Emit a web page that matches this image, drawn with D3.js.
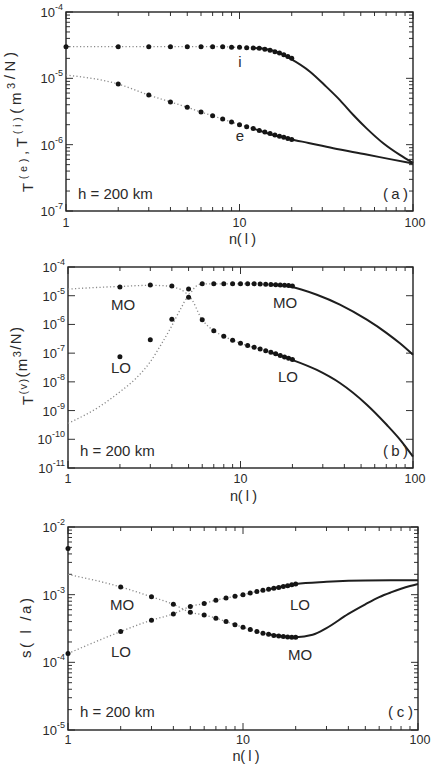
<!DOCTYPE html>
<html>
<head>
<meta charset="utf-8">
<style>
  html, body { margin: 0; padding: 0; background: #fff; }
  svg text { font-family: "Liberation Sans", Arial, sans-serif; fill: #2a2a2a; }
</style>
</head>
<body>
<div id="chart"></div>
<script src="https://cdnjs.cloudflare.com/ajax/libs/d3/7.8.5/d3.min.js"></script>
<script>
// ---- data ----
// panel (a): T(e), T(i)
const nDots = [1, 2, 3, 4, 5, 6, 7, 8, 9, 10, 11, 12, 13, 14, 15, 16, 17, 18, 19, 20];
const aIonDots = [3.0e-5, 3.0e-5, 3.0e-5, 3.0e-5, 3.0e-5, 3.0e-5, 3.0e-5, 3.0e-5, 2.95e-5, 2.93e-5,
  2.9e-5, 2.87e-5, 2.83e-5, 2.75e-5, 2.65e-5, 2.52e-5, 2.4e-5, 2.27e-5, 2.13e-5, 2.0e-5];
const nDots2 = [2, 3, 4, 5, 6, 7, 8, 9, 10, 11, 12, 13, 14, 15, 16, 17, 18, 19, 20];
const aElecDots = [8.2e-6, 5.6e-6, 4.4e-6, 3.66e-6, 3.1e-6, 2.73e-6, 2.43e-6, 2.19e-6, 2.0e-6,
  1.87e-6, 1.75e-6, 1.64e-6, 1.55e-6, 1.47e-6, 1.40e-6, 1.34e-6, 1.29e-6, 1.24e-6, 1.2e-6];
const aElecStart = [1, 1.12e-5];
const aIonSolid = [[12, 2.87e-5], [13.1, 2.83e-5], [16.4, 2.5e-5], [19.5, 2.0e-5], [25.5, 1.26e-5],
  [31.6, 7.5e-6], [37.9, 4.7e-6], [45.3, 2.8e-6], [54, 1.76e-6], [67.4, 1.05e-6], [84, 7.0e-7], [100, 5.3e-7]];
const aElecSolid = [[12, 1.75e-6], [14.3, 1.5e-6], [19.5, 1.22e-6], [25, 1.06e-6], [34.7, 8.8e-7],
  [54, 7.1e-7], [75, 6.0e-7], [100, 5.2e-7]];

// panel (b): T(v)
const bUpperDots = [2.0e-5, 2.35e-5, 2.2e-5, 1.7e-5, 2.6e-5, 2.6e-5, 2.6e-5, 2.6e-5, 2.6e-5, 2.6e-5,
  2.6e-5, 2.55e-5, 2.5e-5, 2.45e-5, 2.4e-5, 2.35e-5, 2.3e-5, 2.25e-5, 2.2e-5];
const bLowerDots = [7.5e-8, 2.9e-7, 1.5e-6, 8.8e-6, 1.45e-6, 6.0e-7, 3.9e-7, 2.8e-7, 2.2e-7, 1.85e-7,
  1.6e-7, 1.4e-7, 1.22e-7, 1.08e-7, 9.5e-8, 8.3e-8, 7.3e-8, 6.6e-8, 6.0e-8];
const bMoDotted = [[1, 1.7e-5], [1.5, 1.95e-5], [2, 2.1e-5], [3, 2.3e-5], [3.5, 2.25e-5], [4, 2.05e-5],
  [4.5, 1.65e-5], [5, 1.15e-5], [5.5, 2.1e-5], [6, 2.6e-5], [10, 2.6e-5], [15, 2.45e-5], [20, 2.2e-5]];
const bLoDotted = [[1, 3.6e-10], [1.5, 1.3e-9], [2, 4.5e-9], [2.5, 1.4e-8], [3, 5e-8], [3.5, 2.2e-7],
  [4, 9e-7], [4.5, 3.5e-6], [5, 9e-6], [6, 1.45e-6], [7, 6e-7], [8, 3.9e-7], [10, 2.2e-7], [15, 1.08e-7], [20, 6e-8]];
const bMoSolid = [[15, 2.45e-5], [19.4, 2.1e-5], [27.7, 1.08e-5], [37.7, 4.9e-6], [54, 1.46e-6],
  [70.4, 5.0e-7], [84, 2.2e-7], [100, 8.8e-8]];
const bLoSolid = [[15, 1.05e-7], [19.4, 6.2e-8], [27.7, 2.6e-8], [37.7, 9.1e-9], [54, 1.6e-9],
  [70.4, 3.2e-10], [84.3, 9.6e-11], [100, 2.5e-11]];

// panel (c): s(l/a)
const cLeftN = [2, 3, 4, 5];
const cMoLeftDots = [1.3e-3, 9.3e-4, 7.2e-4, 6.7e-4];
const cLoLeftN = [1, 2, 3, 4, 5];
const cLoLeftDots = [1.35e-4, 2.85e-4, 4.2e-4, 5.2e-4, 5.5e-4];
const cExtraDot = [1, 4.8e-3];
const cRightN = [6, 7, 8, 9, 10, 11, 12, 13, 14, 15, 16, 17, 18, 19, 20];
const cLoRightDots = [7.4e-4, 8.3e-4, 8.9e-4, 9.5e-4, 1.0e-3, 1.06e-3, 1.11e-3, 1.16e-3, 1.2e-3,
  1.24e-3, 1.28e-3, 1.32e-3, 1.36e-3, 1.4e-3, 1.44e-3];
const cMoRightDots = [5.0e-4, 4.5e-4, 4.0e-4, 3.6e-4, 3.3e-4, 3.05e-4, 2.85e-4, 2.7e-4, 2.6e-4,
  2.5e-4, 2.45e-4, 2.4e-4, 2.37e-4, 2.35e-4, 2.35e-4];
const cDescStart = [1, 2.0e-3];
const cLoSolid = [[14, 1.2e-3], [20, 1.44e-3], [30, 1.55e-3], [40, 1.6e-3], [50, 1.62e-3], [70, 1.63e-3], [100, 1.63e-3]];
const cMoSolid = [[14, 2.6e-4], [17, 2.42e-4], [20, 2.35e-4], [25, 2.55e-4], [30, 3.2e-4], [40, 5.2e-4],
  [50, 7.2e-4], [60, 9.2e-4], [70, 1.08e-3], [80, 1.22e-3], [90, 1.34e-3], [100, 1.44e-3]];

// tick labels
const xTickLabels = ["1", "10", "100"];
const aExps = [-4, -5, -6, -7];
const bExps = [-4, -5, -6, -7, -8, -9, -10, -11];
const cExps = [-2, -3, -4, -5];

// ---- helpers ----
const zip = (ns, vs) => ns.map((n, i) => [n, vs[i]]);

const width = 434, height = 766;
const svg = d3.select("#chart").append("svg")
  .attr("width", width).attr("height", height);

function panel(o) {
  const x = d3.scaleLog().domain([1, 100]).range([o.left, o.right]);
  const y = d3.scaleLog().domain([Math.pow(10, o.exps[o.exps.length - 1]), Math.pow(10, o.exps[0])])
    .range([o.bottom, o.top]);
  const g = svg.append("g");

  // ticks, all pointing inward
  const tk = g.append("g").attr("stroke", "#333").attr("stroke-width", 1);
  x.ticks().forEach(t => {
    const major = Math.abs(Math.log10(t) % 1) < 1e-9;
    const len = major ? 7 : 4;
    tk.append("line").attr("x1", x(t)).attr("x2", x(t)).attr("y1", o.bottom).attr("y2", o.bottom - len);
    tk.append("line").attr("x1", x(t)).attr("x2", x(t)).attr("y1", o.top).attr("y2", o.top + len);
  });
  let yt = y.ticks();
  if (!o.minorY) yt = yt.filter(t => Math.abs(Math.log10(t) - Math.round(Math.log10(t))) < 1e-9);
  yt.forEach(t => {
    const major = Math.abs(Math.log10(t) - Math.round(Math.log10(t))) < 1e-9;
    const len = major ? 7 : 4;
    tk.append("line").attr("y1", y(t)).attr("y2", y(t)).attr("x1", o.left).attr("x2", o.left + len);
    tk.append("line").attr("y1", y(t)).attr("y2", y(t)).attr("x1", o.right).attr("x2", o.right - len);
  });

  g.append("rect")
    .attr("x", o.left).attr("y", o.top)
    .attr("width", o.right - o.left).attr("height", o.bottom - o.top)
    .attr("fill", "none").attr("stroke", "#222").attr("stroke-width", 1.4);

  // x tick labels
  [1, 10, 100].forEach((t, i) => {
    g.append("text").attr("x", x(t) + (i === 2 ? 2 : 0)).attr("y", o.bottom + o.tickDy)
      .attr("text-anchor", "middle").attr("font-size", 12.5).text(xTickLabels[i]);
  });
  // y tick labels: 10 with exponent
  o.exps.forEach(e => {
    const yy = y(Math.pow(10, e));
    const t = g.append("text").attr("x", o.left - 3).attr("y", yy + 5)
      .attr("text-anchor", "end").attr("font-size", 13);
    t.append("tspan").text("10");
    t.append("tspan").attr("font-size", 9).attr("dy", -7).text(String(e));
  });

  const line = d3.line().x(d => x(d[0])).y(d => y(d[1])).curve(d3.curveMonotoneX);
  (o.dotted || []).forEach(s => {
    g.append("path").attr("d", line(s)).attr("fill", "none")
      .attr("stroke", "#8a8a8a").attr("stroke-width", 1.3).attr("stroke-dasharray", "1.2,2.3");
  });
  (o.solid || []).forEach(s => {
    g.append("path").attr("d", line(s)).attr("fill", "none")
      .attr("stroke", "#1e1e1e").attr("stroke-width", 2);
  });
  (o.dots || []).forEach(s => {
    g.selectAll(null).data(s).join("circle")
      .attr("cx", d => x(d[0])).attr("cy", d => y(d[1])).attr("r", 2.5).attr("fill", "#151515");
  });

  // axis titles
  g.append("text").attr("x", (o.left + o.right) / 2 + 3).attr("y", o.bottom + o.labDy)
    .attr("text-anchor", "middle").attr("font-size", 14.5)
    .attr("textLength", 27).attr("lengthAdjust", "spacing").text("n( l )");

  const yl = g.append("text")
    .attr("transform", `translate(${o.ylabX},${o.ylabY}) rotate(-90)`)
    .attr("text-anchor", "middle").attr("font-size", 15)
    .attr("textLength", o.ylabLen).attr("lengthAdjust", "spacing");
  o.ylab.forEach(p => {
    if (p.sup) {
      yl.append("tspan").attr("font-size", 11).attr("dy", -6).text(p.sup);
      yl.append("tspan").attr("font-size", 15).attr("dy", 6).text("");
    } else {
      yl.append("tspan").text(p.t);
    }
  });

  // annotations
  g.append("text").attr("x", o.left + 12).attr("y", o.hY).attr("font-size", 15).text("h = 200 km");
  g.append("text").attr("x", o.right - 30).attr("y", o.hY).attr("font-size", 15)
    .attr("textLength", 25).attr("lengthAdjust", "spacing").text(o.tag);
  o.notes.forEach(nt => {
    g.append("text").attr("x", nt[1]).attr("y", nt[2]).attr("text-anchor", "middle")
      .attr("font-size", 15).text(nt[0]);
  });
}

panel({
  left: 66, right: 413, top: 12, bottom: 211, exps: aExps, minorY: true, tickDy: 16, labDy: 33,
  dotted: [zip(nDots, aIonDots), [aElecStart].concat(zip(nDots2, aElecDots))],
  solid: [aIonSolid, aElecSolid],
  dots: [zip(nDots, aIonDots), zip(nDots2, aElecDots)],
  ylabX: 33, ylabY: 122, ylabLen: 140,
  ylab: [{t: "T"}, {sup: "(e)"}, {t: ",T"}, {sup: "(i)"}, {t: "(m"}, {sup: "3"}, {t: "/N)"}],
  hY: 199, tag: "(a)",
  notes: [["i", 240, 67], ["e", 240, 141]]
});

panel({
  left: 68, right: 413, top: 267, bottom: 468, exps: bExps, minorY: false, tickDy: 15, labDy: 33,
  dotted: [bMoDotted, bLoDotted],
  solid: [bMoSolid, bLoSolid],
  dots: [zip(nDots2, bUpperDots), zip(nDots2, bLowerDots)],
  ylabX: 33, ylabY: 366, ylabLen: 78,
  ylab: [{t: "T"}, {sup: "(v)"}, {t: "(m"}, {sup: "3"}, {t: "/N)"}],
  hY: 456, tag: "(b)",
  notes: [["MO", 123, 310], ["LO", 121, 373], ["MO", 285, 308], ["LO", 288, 382]]
});

panel({
  left: 68, right: 418, top: 527, bottom: 730, exps: cExps, minorY: true, tickDy: 14, labDy: 31,
  dotted: [[cDescStart].concat(zip(cLeftN, cMoLeftDots.slice(0, 3).concat([5.5e-4])), zip(cRightN, cMoRightDots)),
           zip(cLoLeftN, cLoLeftDots.slice(0, 4).concat([6.7e-4])).concat(zip(cRightN, cLoRightDots))],
  solid: [cLoSolid, cMoSolid],
  dots: [zip(cLeftN, cMoLeftDots), zip(cLoLeftN, cLoLeftDots), [cExtraDot],
         zip(cRightN, cLoRightDots), zip(cRightN, cMoRightDots)],
  ylabX: 31, ylabY: 628, ylabLen: 60,
  ylab: [{t: "s( l /a)"}],
  hY: 717, tag: "(c)",
  notes: [["MO", 122, 610], ["LO", 121, 657], ["LO", 300, 610], ["MO", 300, 660]]
});
</script>
</body>
</html>
